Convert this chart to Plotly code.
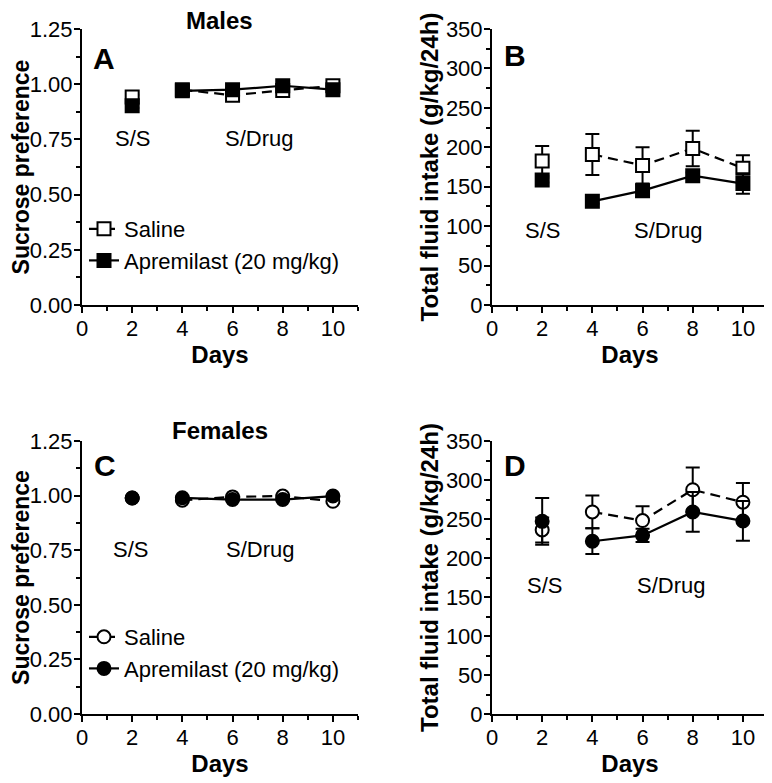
import plotly.graph_objects as go

days = [2, 4, 6, 8, 10]

# Panel A: Males sucrose preference
a_sal = [0.942, 0.975, 0.950, 0.972, 0.993]
a_sal_err = [0.010, 0.010, 0.015, 0.010, 0.008]
a_apr = [0.902, 0.970, 0.975, 0.993, 0.975]
a_apr_err = [0.010, 0.008, 0.010, 0.008, 0.008]

# Panel B: Males total fluid intake
b_sal = [182.5, 191.0, 177.0, 198.5, 173.5]
b_sal_err = [19.0, 26.0, 23.0, 22.5, 16.5]
b_apr = [158.5, 131.5, 145.0, 164.0, 154.0]
b_apr_err = [3.0, 3.0, 8.0, 4.0, 13.0]

# Panel C: Females sucrose preference
c_sal = [0.989, 0.979, 0.994, 0.998, 0.974]
c_sal_err = [0.005, 0.005, 0.005, 0.005, 0.008]
c_apr = [0.989, 0.990, 0.982, 0.982, 0.998]
c_apr_err = [0.005, 0.005, 0.005, 0.005, 0.005]

# Panel D: Females total fluid intake
d_sal = [236.0, 259.0, 248.0, 287.5, 271.5]
d_sal_err = [16.0, 21.0, 18.5, 28.5, 24.5]
d_apr = [247.0, 221.5, 229.0, 259.0, 247.5]
d_apr_err = [30.0, 16.5, 8.5, 25.5, 25.5]

FONT = "Liberation Sans, Arial, sans-serif"

fig = go.Figure()

panels = [
    ("x", "y", "legend", "square", a_sal, a_sal_err, a_apr, a_apr_err),
    ("x2", "y2", None, "square", b_sal, b_sal_err, b_apr, b_apr_err),
    ("x3", "y3", "legend2", "circle", c_sal, c_sal_err, c_apr, c_apr_err),
    ("x4", "y4", None, "circle", d_sal, d_sal_err, d_apr, d_apr_err),
]

for xa, ya, leg, sym, sal, sal_e, apr, apr_e in panels:
    for name, vals, errs, fill, dash in [
        ("Saline", sal, sal_e, "white", "10px,6px"),
        ("Apremilast (20 mg/kg)", apr, apr_e, "black", "solid"),
    ]:
        marker = dict(symbol=sym, size=13, color=fill,
                      line=dict(color="black", width=2))
        # S/S baseline point (not connected)
        fig.add_trace(go.Scatter(
            x=days[:1], y=vals[:1], mode="markers", marker=marker,
            error_y=dict(type="data", array=errs[:1], color="black",
                         thickness=2, width=7),
            xaxis=xa, yaxis=ya, showlegend=False, name=name))
        # S/Drug days (connected)
        kw = dict(showlegend=False)
        if leg is not None:
            kw = dict(showlegend=True, legend=leg)
        fig.add_trace(go.Scatter(
            x=days[1:], y=vals[1:], mode="lines+markers", marker=marker,
            line=dict(color="black", width=2.2, dash=dash),
            error_y=dict(type="data", array=errs[1:], color="black",
                         thickness=2, width=7),
            xaxis=xa, yaxis=ya, name=name, **kw))

axis_common = dict(
    showline=True, linecolor="black", linewidth=2, mirror=False,
    ticks="outside", ticklen=6, tickwidth=2, tickcolor="black",
    showgrid=False, zeroline=False, automargin=False,
    ticklabelstandoff=-3,
    tickfont=dict(family=FONT, size=22, color="black"),
)

def xaxis(domain, anchor):
    return dict(axis_common, domain=domain, anchor=anchor, range=[0, 11],
                tickmode="array", tickvals=[0, 2, 4, 6, 8, 10],
                minor=dict(tickmode="array", tickvals=[1, 3, 5, 7, 9, 11],
                           ticks="outside", ticklen=4, tickwidth=2,
                           tickcolor="black"),
                title=dict(text="<b>Days</b>", standoff=0,
                           font=dict(family=FONT, size=24, color="black")))

def yaxis_sp(domain, anchor):
    return dict(axis_common, domain=domain, anchor=anchor, range=[0, 1.25],
                tickmode="array", tickvals=[0, 0.25, 0.5, 0.75, 1.0, 1.25],
                ticktext=["0.00", "0.25", "0.50", "0.75", "1.00", "1.25"],
                minor=dict(tickmode="array",
                           tickvals=[0.125, 0.375, 0.625, 0.875, 1.125],
                           ticks="outside", ticklen=4, tickwidth=2,
                           tickcolor="black"),
                title=dict(text="<b>Sucrose preference</b>", standoff=0,
                           font=dict(family=FONT, size=23, color="black")))

def yaxis_fl(domain, anchor):
    return dict(axis_common, domain=domain, anchor=anchor, range=[0, 350],
                tickmode="array", tickvals=[0, 50, 100, 150, 200, 250, 300, 350],
                minor=dict(tickmode="array",
                           tickvals=[25, 75, 125, 175, 225, 275, 325],
                           ticks="outside", ticklen=4, tickwidth=2,
                           tickcolor="black"),
                title=dict(text="<b>Total fluid intake (g/kg/24h)</b>", standoff=0,
                           font=dict(family=FONT, size=24, color="black")))

# figure is placed 8px in from the page corner, so work in a 764x775 box
W, H = 764, 775
xl = [74 / W, 350 / W]
xr = [484 / W, 760 / W]
yt = [1 - 297 / H, 1 - 21 / H]
yb = [1 - 706 / H, 1 - 433 / H]

ann = []
def txt(t, x, y, xref, yref, size=22, bold=False):
    ann.append(dict(text=("<b>%s</b>" % t) if bold else t, x=x, y=y,
                    xref=xref, yref=yref, showarrow=False,
                    font=dict(family=FONT, size=size, color="black"),
                    xanchor="center", yanchor="middle"))

# panel letters
txt("A", 0.87, 1.118, "x", "y", size=30, bold=True)
txt("B", 0.92, 317, "x2", "y2", size=30, bold=True)
txt("C", 0.90, 1.14, "x3", "y3", size=30, bold=True)
txt("D", 0.92, 318, "x4", "y4", size=30, bold=True)
# phase labels
txt("S/S", 2.0, 0.755, "x", "y")
txt("S/Drug", 7.05, 0.755, "x", "y")
txt("S/S", 2.0, 95, "x2", "y2")
txt("S/Drug", 7.0, 95, "x2", "y2")
txt("S/S", 1.95, 0.751, "x3", "y3")
txt("S/Drug", 7.1, 0.751, "x3", "y3")
txt("S/S", 2.1, 165, "x4", "y4")
txt("S/Drug", 7.15, 165, "x4", "y4")
# titles
txt("Males", 211 / W, 1 - 12 / H, "paper", "paper", size=24, bold=True)
txt("Females", 212 / W, 1 - 422 / H, "paper", "paper", size=24, bold=True)

legend_common = dict(font=dict(family=FONT, size=22, color="black"),
                     bgcolor="rgba(0,0,0,0)", borderwidth=0,
                     xanchor="left", yanchor="top", tracegroupgap=0,
                     itemwidth=30)

fig.update_layout(
    width=W, height=H,
    margin=dict(l=0, r=0, t=0, b=0),
    paper_bgcolor="white", plot_bgcolor="white",
    font=dict(family=FONT, color="black"),
    xaxis=xaxis(xl, "y"), yaxis=yaxis_sp(yt, "x"),
    xaxis2=xaxis(xr, "y2"), yaxis2=yaxis_fl(yt, "x2"),
    xaxis3=xaxis(xl, "y3"), yaxis3=yaxis_sp(yb, "x3"),
    xaxis4=xaxis(xr, "y4"), yaxis4=yaxis_fl(yb, "x4"),
    legend=dict(legend_common, x=76 / W, y=1 - 200 / H),
    legend2=dict(legend_common, x=76 / W, y=1 - 608 / H),
    annotations=ann,
    showlegend=True,
)

fig.write_html("out.html")
